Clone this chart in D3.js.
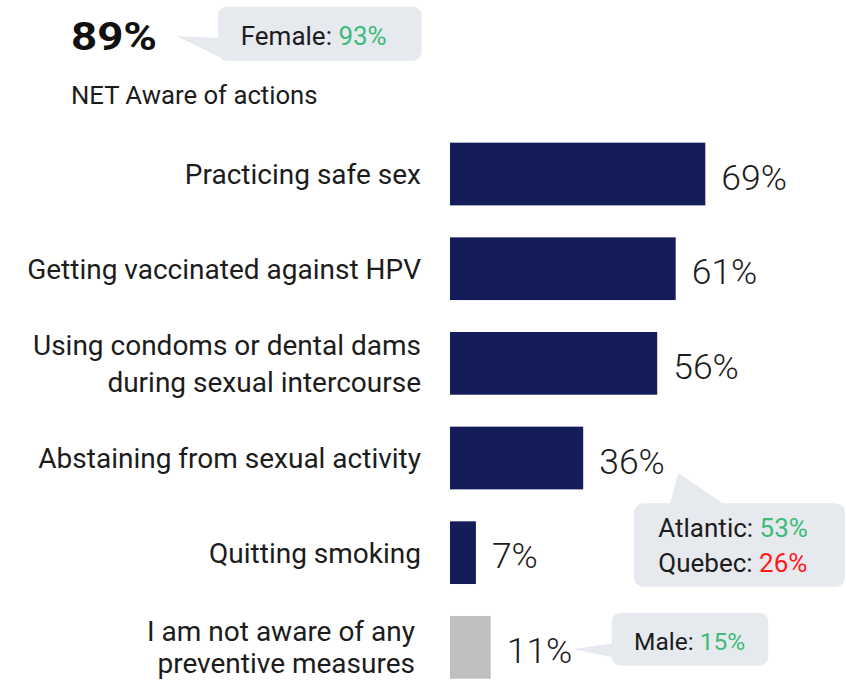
<!DOCTYPE html>
<html>
<head>
<meta charset="utf-8">
<script src="https://cdn.jsdelivr.net/npm/d3@7"></script>
<style>
  html, body { margin: 0; padding: 0; background: #ffffff; }
  svg { display: block; }
  text { font-family: Roboto, "Noto Sans", sans-serif; }
</style>
</head>
<body>
<svg id="chart" width="846" height="682"></svg>
<script>
// ---- data ----
const categories = [
  "Practicing safe sex",
  "Getting vaccinated against HPV",
  "Using condoms or dental dams\nduring sexual intercourse",
  "Abstaining from sexual activity",
  "Quitting smoking",
  "I am not aware of any\npreventive measures"
];
const values = [69, 61, 56, 36, 7, 11];
const barGroups = ["aware", "aware", "aware", "aware", "aware", "none"];
const netValue = 89;
const netLabel = "NET Aware of actions";
const femaleCallout = [["Female: ", "93%", "pos"]];
const regionCallout = [["Atlantic: ", "53%", "pos"], ["Quebec: ", "26%", "neg"]];
const maleCallout = [["Male: ", "15%", "pos"]];

// ---- styles ----
const navy = "#141d5a";
const grey = "#bfbfbf";
const textColor = "#1c1c1c";
const boxFill = "#e6e9ee";
const posColor = "#3dbb78";
const negColor = "#ff1a1a";

const svg = d3.select("#chart");

const x = d3.scaleLinear().domain([0, 100]).range([450, 820]);
const pad = 0.3376;
const y = d3.scaleBand()
  .domain(categories)
  .range([126.7, 694.66])
  .paddingInner(pad)
  .paddingOuter(pad / 2);

const rows = categories.map((c, i) => ({ cat: c, value: values[i], group: barGroups[i], i }));

// bars
svg.append("g").selectAll("rect")
  .data(rows)
  .join("rect")
  .attr("x", x(0))
  .attr("y", d => y(d.cat))
  .attr("width", d => x(d.value) - x(0))
  .attr("height", y.bandwidth())
  .attr("fill", d => d.group === "none" ? grey : navy);

// value labels
svg.append("g").selectAll("text")
  .data(rows)
  .join("text")
  .attr("x", d => x(d.value) + 16)
  .attr("y", d => y(d.cat) + y.bandwidth() / 2 + 15.5)
  .attr("font-size", 35.5)
  .attr("font-weight", 300)
  .attr("fill", textColor)
  .text(d => d.value + "%");

// category labels
const lineHeights = [36, 36, 36.7, 36, 36, 31.7];
svg.append("g").selectAll("text")
  .data(rows)
  .join("text")
  .attr("text-anchor", "end")
  .attr("font-size", 28)
  .attr("fill", textColor)
  .each(function (d) {
    const lines = d.cat.split("\n");
    const lh = lineHeights[d.i];
    const cy = y(d.cat) + y.bandwidth() / 2;
    const xr = d.i === categories.length - 1 ? 415 : 421;
    const t = d3.select(this);
    lines.forEach((ln, k) => {
      t.append("tspan")
        .attr("x", xr)
        .attr("y", cy + 10 - (lines.length - 1) * lh / 2 + k * lh)
        .text(ln);
    });
  });

// NET headline
svg.append("text")
  .attr("x", 71)
  .attr("y", 50)
  .attr("font-size", 38)
  .attr("font-weight", 700)
  .attr("textLength", 86)
  .attr("lengthAdjust", "spacingAndGlyphs")
  .attr("fill", "#111")
  .text(netValue + "%");
svg.append("text")
  .attr("x", 71)
  .attr("y", 104)
  .attr("font-size", 25.7)
  .attr("fill", textColor)
  .text(netLabel);

// callouts
function callout(box, tail, lines, tx, ty0, lh, fs) {
  const g = svg.append("g");
  g.append("rect")
    .attr("x", box[0]).attr("y", box[1])
    .attr("width", box[2]).attr("height", box[3])
    .attr("rx", 9).attr("ry", 9)
    .attr("fill", boxFill);
  g.append("path")
    .attr("d", d3.line()(tail) + "Z")
    .attr("fill", boxFill);
  lines.forEach((ln, k) => {
    const t = g.append("text")
      .attr("x", tx)
      .attr("y", ty0 + k * lh)
      .attr("font-size", fs)
      .attr("fill", textColor);
    t.append("tspan").text(ln[0]);
    t.append("tspan")
      .attr("fill", ln[2] === "pos" ? posColor : negColor)
      .text(ln[1]);
  });
}

callout([218, 6.7, 203.7, 54], [[176.7, 36], [219, 38], [219, 57]], femaleCallout, 240.7, 45, 0, 26);

callout([634, 503.3, 211, 83.4], [[678.3, 472.7], [670, 504], [723.3, 504]], regionCallout, 658.3, 537.3, 34.4, 26);

callout([611.7, 612.7, 156.6, 53], [[573.3, 649.3], [612.5, 643.3], [612.5, 657.3]], maleCallout, 634, 650, 0, 24.5);
</script>
</body>
</html>
